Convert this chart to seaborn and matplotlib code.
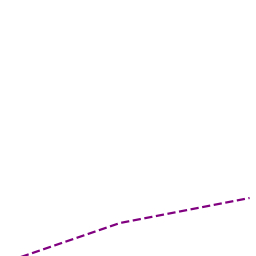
import matplotlib
matplotlib.use("Agg")
import matplotlib.pyplot as plt
import seaborn as sns
import pandas as pd

x_vals = [0.0, 1.0, 2.27]
y_vals = [0.0, 35.0, 60.0]

df = pd.DataFrame({"x": x_vals, "y": y_vals})

sns.set_style("white")
fig = plt.figure(figsize=(2.56, 2.56), dpi=100)
ax = fig.add_axes([0, 0, 1, 1])
sns.lineplot(data=df, x="x", y="y", ax=ax, color="purple",
             linestyle="--", linewidth=1.6, sort=False)
ax.set_xlim(-0.176, 2.333)
ax.set_ylim(2, 258)
ax.set_axis_off()
fig.savefig("out.png", dpi=100, facecolor="white")
